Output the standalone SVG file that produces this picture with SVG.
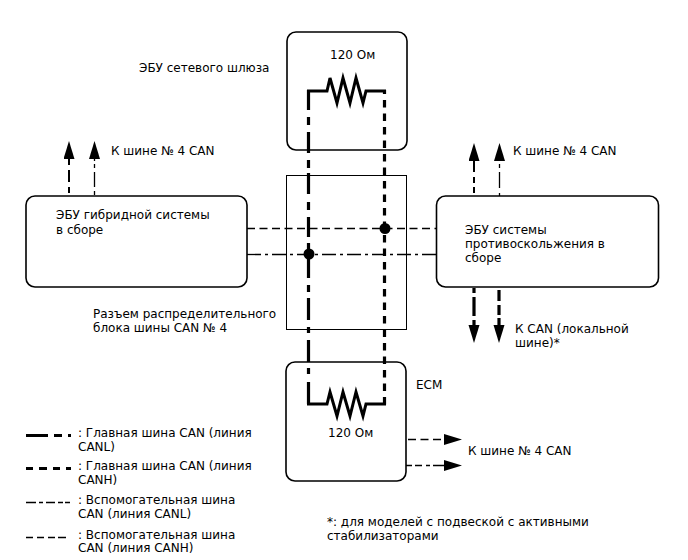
<svg xmlns="http://www.w3.org/2000/svg" width="688" height="560" viewBox="0 0 688 560">
<style>
text{font-family:"DejaVu Sans",sans-serif;font-size:12px;fill:#000}
.box{fill:#fff;stroke:#000;stroke-width:1.6}
.frame{fill:none;stroke:#000;stroke-width:1}
.l{fill:none;stroke:#000}
.thick{stroke-width:3.2}
.mid{stroke-width:2}
.thin{stroke-width:1.3}
.canh{stroke-dasharray:7.500 6}
.subl{stroke-dasharray:14 4 3 4}
.subh{stroke-dasharray:8 4.500}
.r{fill:none;stroke:#000;stroke-width:3}
</style>
<defs>
<marker id="a" markerUnits="userSpaceOnUse" markerWidth="20" markerHeight="12" refX="1" refY="5.500" orient="auto"><path d="M0 0L18 5.500L0 11Z" fill="#000"/></marker>
</defs>
<g id="gateway"><rect class="box" x="287" y="32" width="120" height="118" rx="9"/><text x="330" y="59">120 Ом</text></g>
<g id="hybrid"><rect class="box" x="26" y="196" width="221" height="91" rx="9"/><text x="56" y="219">ЭБУ гибридной системы</text><text x="56" y="234">в сборе</text></g>
<g id="skid"><rect class="box" x="436.500" y="196" width="222" height="91" rx="9"/><text x="465" y="234">ЭБУ системы</text><text x="465" y="248">противоскольжения в</text><text x="465" y="262">сборе</text></g>
<g id="ecm"><rect class="box" x="286" y="362" width="120" height="119" rx="9"/><text x="328" y="437">120 Ом</text></g>
<g id="junction"><rect class="frame" x="286.500" y="175.500" width="120" height="154"/></g>
<g id="connectors">
<path class="l thick" d="M308.500 90V110M308.500 117V125M308.500 132V153M308.500 160V168M308.500 173V194M308.500 202V210M308.500 217V237M308.500 243V250M308.500 258V278M308.500 285V292M308.500 298V320M308.500 327V333M308.500 340V362M308.500 368V374M308.500 382V404"/>
<path class="l thick" d="M384.500 90V94"/>
<path class="l thick canh" d="M384.500 100V404.500"/>
<path class="r" d="M307 91H327L330 78L337 103L343 78L350 103L356 78L363 103L366 91H386"/>
<path class="r" d="M307 404H327L330 392L337 416L343 392L350 416L356 392L363 416L366 404H386"/>
<path class="l thin subh" d="M247 228.500H436"/>
<path class="l thin subl" d="M247 254.500H436"/>
<circle cx="385" cy="228.500" r="5.500"/>
<circle cx="309" cy="254" r="5.500"/>
<path class="l mid" d="M69 193V187M69 182V170M69 165V158" marker-end="url(#a)"/>
<path class="l thin" d="M94.500 195V191M94.500 187V172M94.500 168V164M94.500 161V158" marker-end="url(#a)"/>
<path class="l mid" d="M474 193V187M474 183V177M474 172V160" marker-end="url(#a)"/>
<path class="l thin" d="M499.500 196V193M499.500 188V172M499.500 168V164M499.500 161V160" marker-end="url(#a)"/>
<path class="l thick" d="M474 288V293M474 297V316M474 320V326" marker-end="url(#a)"/>
<path class="l thick" d="M499 290V301M499 305V315M499 318V326" marker-end="url(#a)"/>
<path class="l thin subh" d="M408 439.500H445" marker-end="url(#a)"/>
<path class="l thin" d="M406 465.500H412M415 465.500H422M426 465.500H430M433 465.500H445" marker-end="url(#a)"/>
</g>
<g id="labels">
<text x="139" y="72">ЭБУ сетевого шлюза</text>
<text x="111" y="155">К шине № 4 CAN</text>
<text x="513" y="155">К шине № 4 CAN</text>
<text x="93" y="318">Разъем распределительного</text>
<text x="93" y="332">блока шины CAN № 4</text>
<text x="515" y="333">К CAN (локальной</text>
<text x="515" y="347">шине)*</text>
<text x="416" y="389">ECM</text>
<text x="468" y="455">К шине № 4 CAN</text>
<text x="327" y="526">*: для моделей с подвеской с активными</text>
<text x="327" y="540">стабилизаторами</text>
</g>
<g id="legend">
<path class="l thick" d="M26 435.500H48M54 435.500H62M68 435.500H71"/>
<path class="l thick" d="M26 468.500H33M39 468.500H47M53 468.500H60M66 468.500H71"/>
<path class="l thin" d="M26 502.500H36M39 502.500H43M46 502.500H55M58 502.500H63M65 502.500H70"/>
<path class="l thin" d="M26 537.500H33M37 537.500H44M48 537.500H55M58 537.500H66"/>
<text x="78" y="437">: Главная шина CAN (линия</text><text x="78" y="451">CANL)</text>
<text x="78" y="470">: Главная шина CAN (линия</text><text x="78" y="484">CANH)</text>
<text x="78" y="504">: Вспомогательная шина</text><text x="78" y="518">CAN (линия CANL)</text>
<text x="78" y="539">: Вспомогательная шина</text><text x="78" y="552">CAN (линия CANH)</text>
</g>
</svg>
